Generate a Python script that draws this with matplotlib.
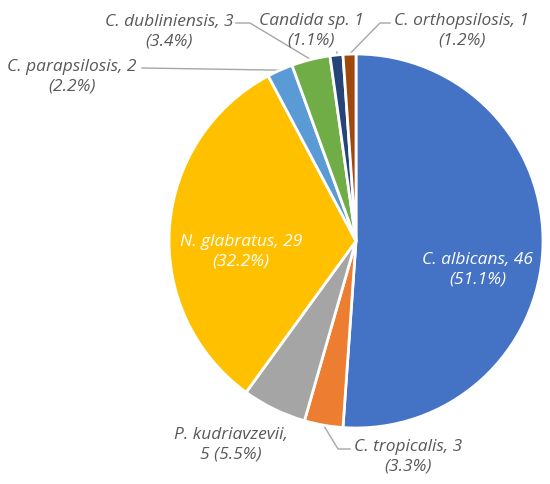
import numpy as np
import matplotlib.pyplot as plt

names = ['C. albicans', 'C. tropicalis', 'P. kudriavzevii', 'N. glabratus',
         'C. parapsilosis', 'C. dubliniensis', 'Candida sp.', 'C. orthopsilosis']
counts = [46, 3, 5, 29, 2, 3, 1, 1]
pct_labels = ['51.1%', '3.3%', '5.5%', '32.2%', '2.2%', '3.4%', '1.1%', '1.2%']
colors = ['#4472C4', '#ED7D31', '#A5A5A5', '#FFC000',
          '#5B9BD5', '#70AD47', '#264478', '#9E480E']

W, H = 550, 484
cx, cy, R = 356, 241, 187


def px(x, y):
    # pixel position -> data units (pie radius = 1)
    return (x - cx) / R, (cy - y) / R


fig = plt.figure(figsize=(W / 100, H / 100), dpi=100)
ax = fig.add_axes([0, 0, 1, 1])
wedges, _ = ax.pie(counts, colors=colors, startangle=90, counterclock=False,
                   radius=1, wedgeprops=dict(edgecolor='white', linewidth=2))
x0, y1 = px(0, 0)
x1, y0 = px(W, H)
ax.set_xlim(x0, x1)
ax.set_ylim(y0, y1)
ax.set_aspect('equal')
ax.axis('off')

font = dict(family='Open Sans', style='italic', fontsize=12.5)
gray = '#595959'
line_col = '#A6A6A6'

# label text, centre position (pixels), colour
texts = {
    'C. albicans': ('C. albicans, 46\n(51.1%)', (478, 270), 'white'),
    'N. glabratus': ('N. glabratus, 29\n(32.2%)', (241, 252), 'white'),
    'P. kudriavzevii': ('P. kudriavzevii,\n5 (5.5%)', (231, 445), gray),
    'C. tropicalis': ('C. tropicalis, 3\n(3.3%)', (408, 457), gray),
    'C. parapsilosis': ('C. parapsilosis, 2\n(2.2%)', (72, 77), gray),
    'C. dubliniensis': ('C. dubliniensis, 3\n(3.4%)', (169, 32), gray),
    'Candida sp.': ('Candida sp. 1\n(1.1%)', (311, 31), gray),
    'C. orthopsilosis': ('C. orthopsilosis, 1\n(1.2%)', (462, 31), gray),
}

# leader line bends (pixels), wedge end point comes from the wedge angle
leaders = {
    'C. tropicalis': [(338, 449), (350, 449)],
    'C. parapsilosis': [(142, 68)],
    'C. dubliniensis': [(250, 23), (236, 23)],
    'Candida sp.': [(337, 52)],
    'C. orthopsilosis': [(380, 23), (390, 23)],
}

for name, w in zip(names, wedges):
    label, pos, col = texts[name]
    tx, ty = px(*pos)
    ax.text(tx, ty, label, ha='center', va='center', color=col,
            linespacing=1.3, **font)
    if name in leaders:
        mid = np.deg2rad((w.theta1 + w.theta2) / 2)
        xs = [np.cos(mid)] + [px(*p)[0] for p in leaders[name]]
        ys = [np.sin(mid)] + [px(*p)[1] for p in leaders[name]]
        ax.plot(xs, ys, color=line_col, lw=1, zorder=0)

fig.savefig('out.png', dpi=100)
